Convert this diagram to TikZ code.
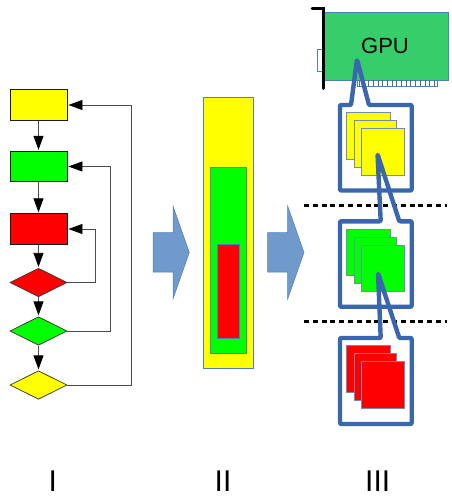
\documentclass[tikz,border=0pt]{standalone}
\usepackage{fontspec}
\setmainfont{Liberation Sans}
\usetikzlibrary{arrows.meta,shapes.geometric}
\definecolor{cbY}{HTML}{FFFF00}
\definecolor{cbG}{HTML}{00FF00}
\definecolor{cbR}{HTML}{FF0000}
\definecolor{calloutblue}{HTML}{3A66B0}
\definecolor{blockblue}{HTML}{7099CC}
\definecolor{blockedge}{HTML}{4F7FBF}
\definecolor{cardgreen}{HTML}{36CE6B}
\definecolor{stackedge}{HTML}{6C8DB5}
\tikzset{
  flowbox/.style={draw=black!90,line width=0.9pt,minimum width=57pt,minimum height=30.5pt,inner sep=0pt},
  flowdia/.style={diamond,aspect=2,draw=black!80,line width=0.7pt,minimum width=57pt,minimum height=28.5pt,inner sep=0pt},
  flowline/.style={draw=black!70,line width=0.8pt,-{Triangle[length=14pt,width=10pt,black]},shorten >=1pt},
  nest/.style={draw=blockedge,line width=0.9pt,inner sep=0pt},
  block/.style={fill=blockblue,draw=blockedge,line width=0.5pt,line join=miter},
  stack/.style={draw=stackedge,line width=0.7pt,inner sep=0pt},
  callout/.style={draw=calloutblue,line width=4.4pt,line join=round,rounded corners=1pt},
  sep/.style={draw=black,line width=2.6pt,dash pattern=on 5pt off 3.8pt},
  numeral/.style={anchor=base,inner sep=0pt,font=\fontsize{30pt}{30pt}\selectfont}
}
\newcommand{\sq}[6]{\node[stack,fill=#1,minimum width=#4pt,minimum height=#5pt] (#6) at (#2,#3) {};}
\begin{document}
\begin{tikzpicture}[x=1pt,y=-1pt]
\useasboundingbox (0,0) rectangle (451,497);
% I : flowchart
\node[flowbox,fill=cbY] (y1) at (38.5,105) {};
\node[flowbox,fill=cbG] (g1) at (38.5,166.5) {};
\node[flowbox,fill=cbR] (r1) at (38.5,229) {};
\node[flowdia,fill=cbR] (r2) at (38.5,282.5) {};
\node[flowdia,fill=cbG] (g2) at (38.5,331) {};
\node[flowdia,fill=cbY] (y2) at (38.5,385) {};
\draw[flowline] (y1) -- (g1);
\draw[flowline] (g1) -- (r1);
\draw[flowline] (r1) -- (r2);
\draw[flowline] (r2) -- (g2);
\draw[flowline] (g2) -- (y2);
\draw[flowline] (r2.east) -- ++(28.5,0) |- (r1.east);
\draw[flowline] (g2.east) -- ++(43,0) |- (g1.east);
\draw[flowline] (y2.east) -- ++(64,0) |- (y1.east);
% II : nested bars
\node[nest,fill=cbY,minimum width=50pt,minimum height=271pt] (ny) at (228.5,232.5) {};
\node[nest,fill=cbG,minimum width=35.5pt,minimum height=186.5pt] (ng) at (228.5,260.3) {};
\node[nest,fill=cbR,minimum width=22pt,minimum height=94pt] (nr) at (228.7,291) {};
% block arrows
\draw[block] (153,232.7) -- (173,232.7) -- (173,206) -- (189.3,252.5) -- (173,299) -- (173,272) -- (153,272) -- cycle;
\draw[block] (267.7,232.7) -- (287.7,232.7) -- (287.7,206) -- (304,252.5) -- (287.7,299) -- (287.7,272) -- (267.7,272) -- cycle;
% separators
\draw[sep] (304,205.3) -- (447,205.3);
\draw[sep] (304,321.7) -- (447,321.7);
% GPU card
\node[fill=cardgreen,draw=blockedge,line width=0.6pt,minimum width=125.7pt,minimum height=68pt,inner sep=0pt] (card) at (385.9,46) {};
\node[inner sep=0pt,font=\fontsize{22pt}{22pt}\selectfont] (gpu) at (385,45.5) {GPU};
\draw[blockedge,fill=white,line width=0.6pt] (317,49) rectangle (323,71);
\draw[blockedge,fill=white,line width=0.6pt] (357.7,80) rectangle (437,86);
\foreach \i in {0,...,16} \draw[black!60,line width=0.6pt] (359+\i*4.7,80) -- (359+\i*4.7,86);
\draw[black,line width=3pt,line cap=round,line join=miter] (312,9) -- (323,9) -- (323,88.5);
% III : stacks
\foreach \c/\p/\o in {cbY/a/0,cbG/b/116.7,cbR/c/233.2}{
  \sq{\c}{368.3}{135.8+\o}{43.3}{46.5}{\p1}
  \sq{\c}{375.5}{143.6+\o}{42.4}{46.7}{\p2}
  \sq{\c}{383}{151.6+\o}{42.6}{46.7}{\p3}
}
% callouts
\draw[callout] (340,105) -- (351,105) -- (357,59.5) -- (369,105) -- (411.7,105) -- (411.7,190.5) -- (340,190.5) -- cycle;
\draw[callout] (340,221.3) -- (380.7,221.3) -- (377.5,154) -- (399.3,221.3) -- (411.7,221.3) -- (411.7,306.7) -- (340,306.7) -- cycle;
\draw[callout] (340,338) -- (380.7,338) -- (378,273) -- (399.3,338) -- (411.7,338) -- (411.7,424) -- (340,424) -- cycle;
% labels
\node[numeral] (l1) at (52.7,491) {I};
\node[numeral] (l2) at (223,491) {II};
\node[numeral] (l3) at (377.7,491) {III};
\end{tikzpicture}
\end{document}
